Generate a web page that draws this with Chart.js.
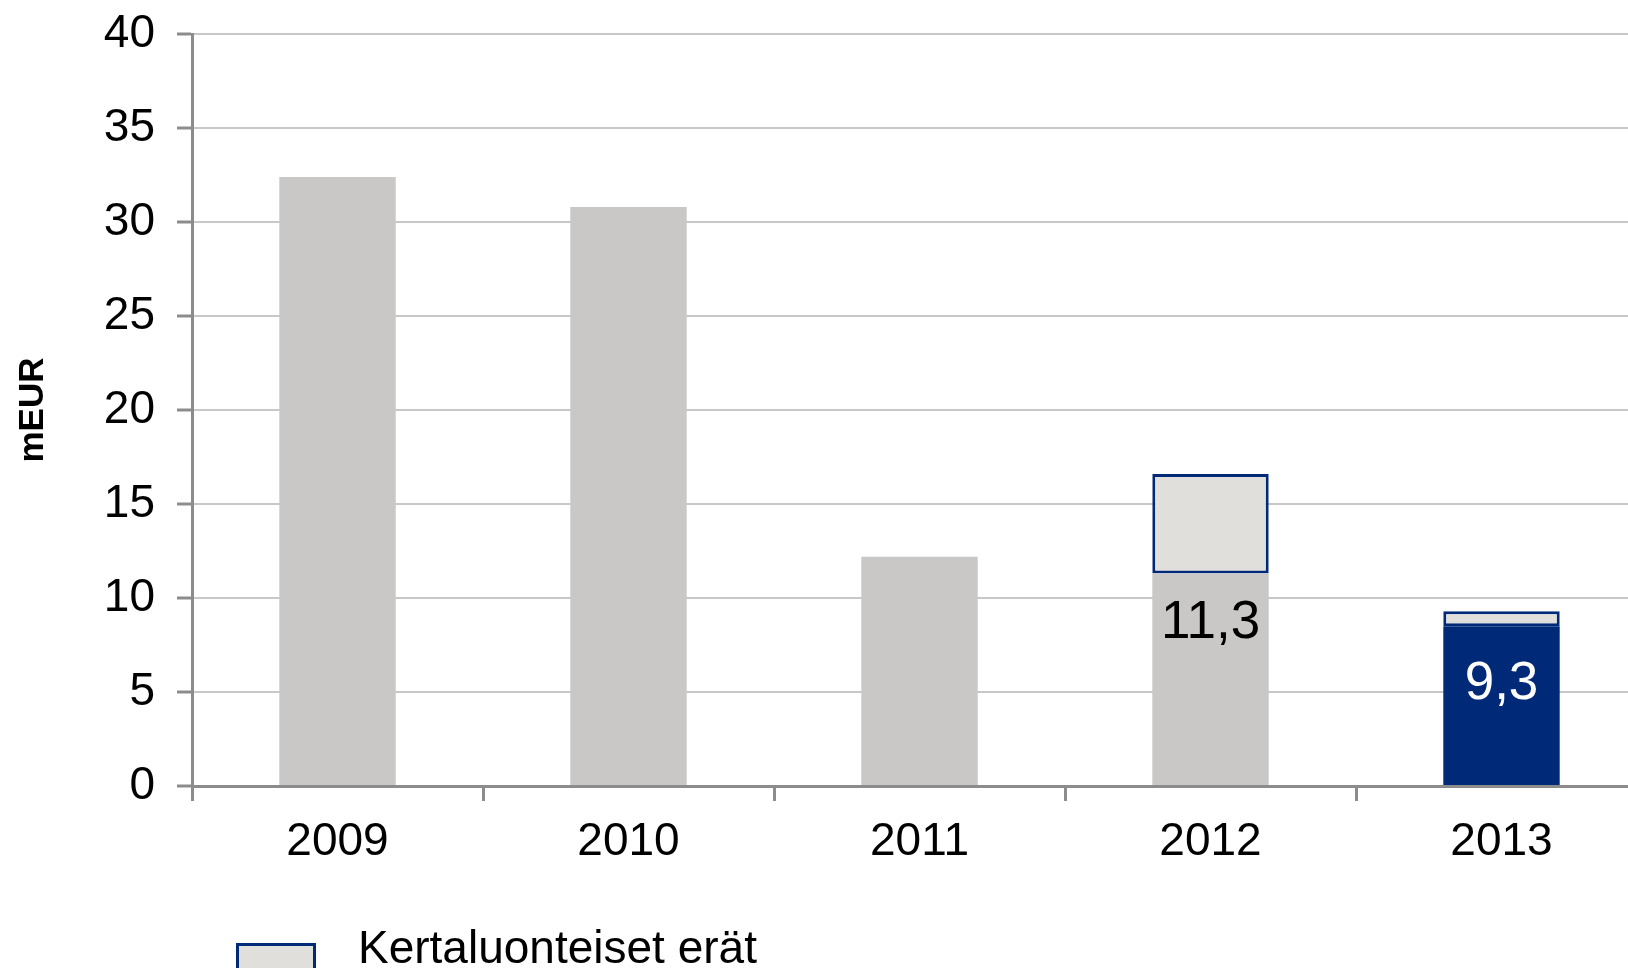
<!DOCTYPE html>
<html><head><meta charset="utf-8">
<script src="https://cdn.jsdelivr.net/npm/chart.js@4/dist/chart.umd.min.js"></script>
<style>
html,body{margin:0;padding:0;overflow:hidden;background:#fff;width:1628px;height:968px}
#wrap{position:relative;width:1650px;height:968px}
canvas{display:block}
</style></head><body>
<div id="wrap"><canvas id="c" width="1650" height="968"></canvas></div>
<script>
const categories = ['2009', '2010', '2011', '2012', '2013'];
const baseValues = [32.4, 30.8, 12.2, 11.3, null];
const blueValues = [null, null, null, null, 8.5];
const oneOffValues = [null, null, null, 5.3, 0.8];
const barLabels = ['', '', '', '11,3', '9,3'];
const yMin = 0, yMax = 40, yStep = 5;
const yAxisTitle = 'mEUR';
const legendLabel = 'Kertaluonteiset erät';

const FONT = '"Liberation Sans", Arial, sans-serif';
const NAVY = '#002a78';
const GRAY = '#c9c8c6';
const LIGHT = '#e0dfdc';

const labelPlugin = {
  id: 'barLabels',
  afterDatasetsDraw(chart) {
    const ctx = chart.ctx;
    ctx.save();
    ctx.font = '53px ' + FONT;
    ctx.textAlign = 'center';
    ctx.textBaseline = 'middle';
    categories.forEach((c, i) => {
      if (!barLabels[i]) return;
      let el = null, white = false;
      if (baseValues[i] != null) el = chart.getDatasetMeta(0).data[i];
      else { el = chart.getDatasetMeta(1).data[i]; white = true; }
      ctx.fillStyle = white ? '#ffffff' : '#000000';
      ctx.fillText(barLabels[i], el.x, el.y + (white ? 58 : 50));
    });
    ctx.restore();
  }
};

const legendPlugin = {
  id: 'customLegend',
  afterDraw(chart) {
    const ctx = chart.ctx;
    const ds = chart.data.datasets[2];
    const a = chart.chartArea;
    ctx.save();
    const bx = a.left + 44, by = a.bottom + 157;
    ctx.fillStyle = ds.backgroundColor;
    ctx.fillRect(bx, by, 80, 40);
    ctx.strokeStyle = ds.borderColor;
    ctx.lineWidth = 3;
    ctx.strokeRect(bx + 1.5, by + 1.5, 77, 37);
    ctx.fillStyle = '#000';
    ctx.font = '46px ' + FONT;
    ctx.textAlign = 'left';
    ctx.textBaseline = 'alphabetic';
    ctx.fillText(ds.label, a.left + 166, a.bottom + 177);
    ctx.restore();
  }
};

new Chart(document.getElementById('c'), {
  type: 'bar',
  data: {
    labels: categories,
    datasets: [
      { label: 'Perus', data: baseValues, backgroundColor: GRAY, stack: 's', barPercentage: 0.4, categoryPercentage: 1 },
      { label: 'Perus 2013', data: blueValues, backgroundColor: NAVY, stack: 's', barPercentage: 0.4, categoryPercentage: 1 },
      { label: legendLabel, data: oneOffValues, backgroundColor: LIGHT, borderColor: NAVY, borderWidth: 3, borderSkipped: false, stack: 's', barPercentage: 0.4, categoryPercentage: 1 }
    ]
  },
  options: {
    responsive: false,
    animation: false,
    devicePixelRatio: 1,
    layout: { padding: { top: 34, left: 0, right: 3, bottom: 0 } },
    plugins: { legend: { display: false }, tooltip: { enabled: false } },
    scales: {
      x: {
        stacked: true,
        grid: { offset: true, drawOnChartArea: false, drawTicks: true, tickLength: 15, tickColor: '#8c8c8c', tickWidth: 3, lineWidth: 3, color: '#8c8c8c' },
        border: { color: '#8c8c8c', width: 3 },
        ticks: { color: '#000', font: { family: FONT, size: 46 }, padding: 14, maxRotation: 0 },
        afterFit(s) { s.height = 182; }
      },
      y: {
        stacked: true,
        min: yMin, max: yMax,
        ticks: { stepSize: yStep, color: '#000', font: { family: FONT, size: 46 }, padding: 22 },
        grid: { color: '#c8c8c8', lineWidth: 2, tickLength: 15, tickColor: '#8c8c8c', tickWidth: 3 },
        border: { color: '#8c8c8c', width: 3 },
        title: { display: true, text: yAxisTitle, color: '#000', font: { family: FONT, size: 35, weight: 'bold' }, padding: { top: 12, bottom: 0 } },
        afterFit(s) { s.width = 192; s.paddingTop = 0; s.paddingBottom = 0; }
      }
    }
  },
  plugins: [labelPlugin, legendPlugin]
});
</script>
</body></html>
